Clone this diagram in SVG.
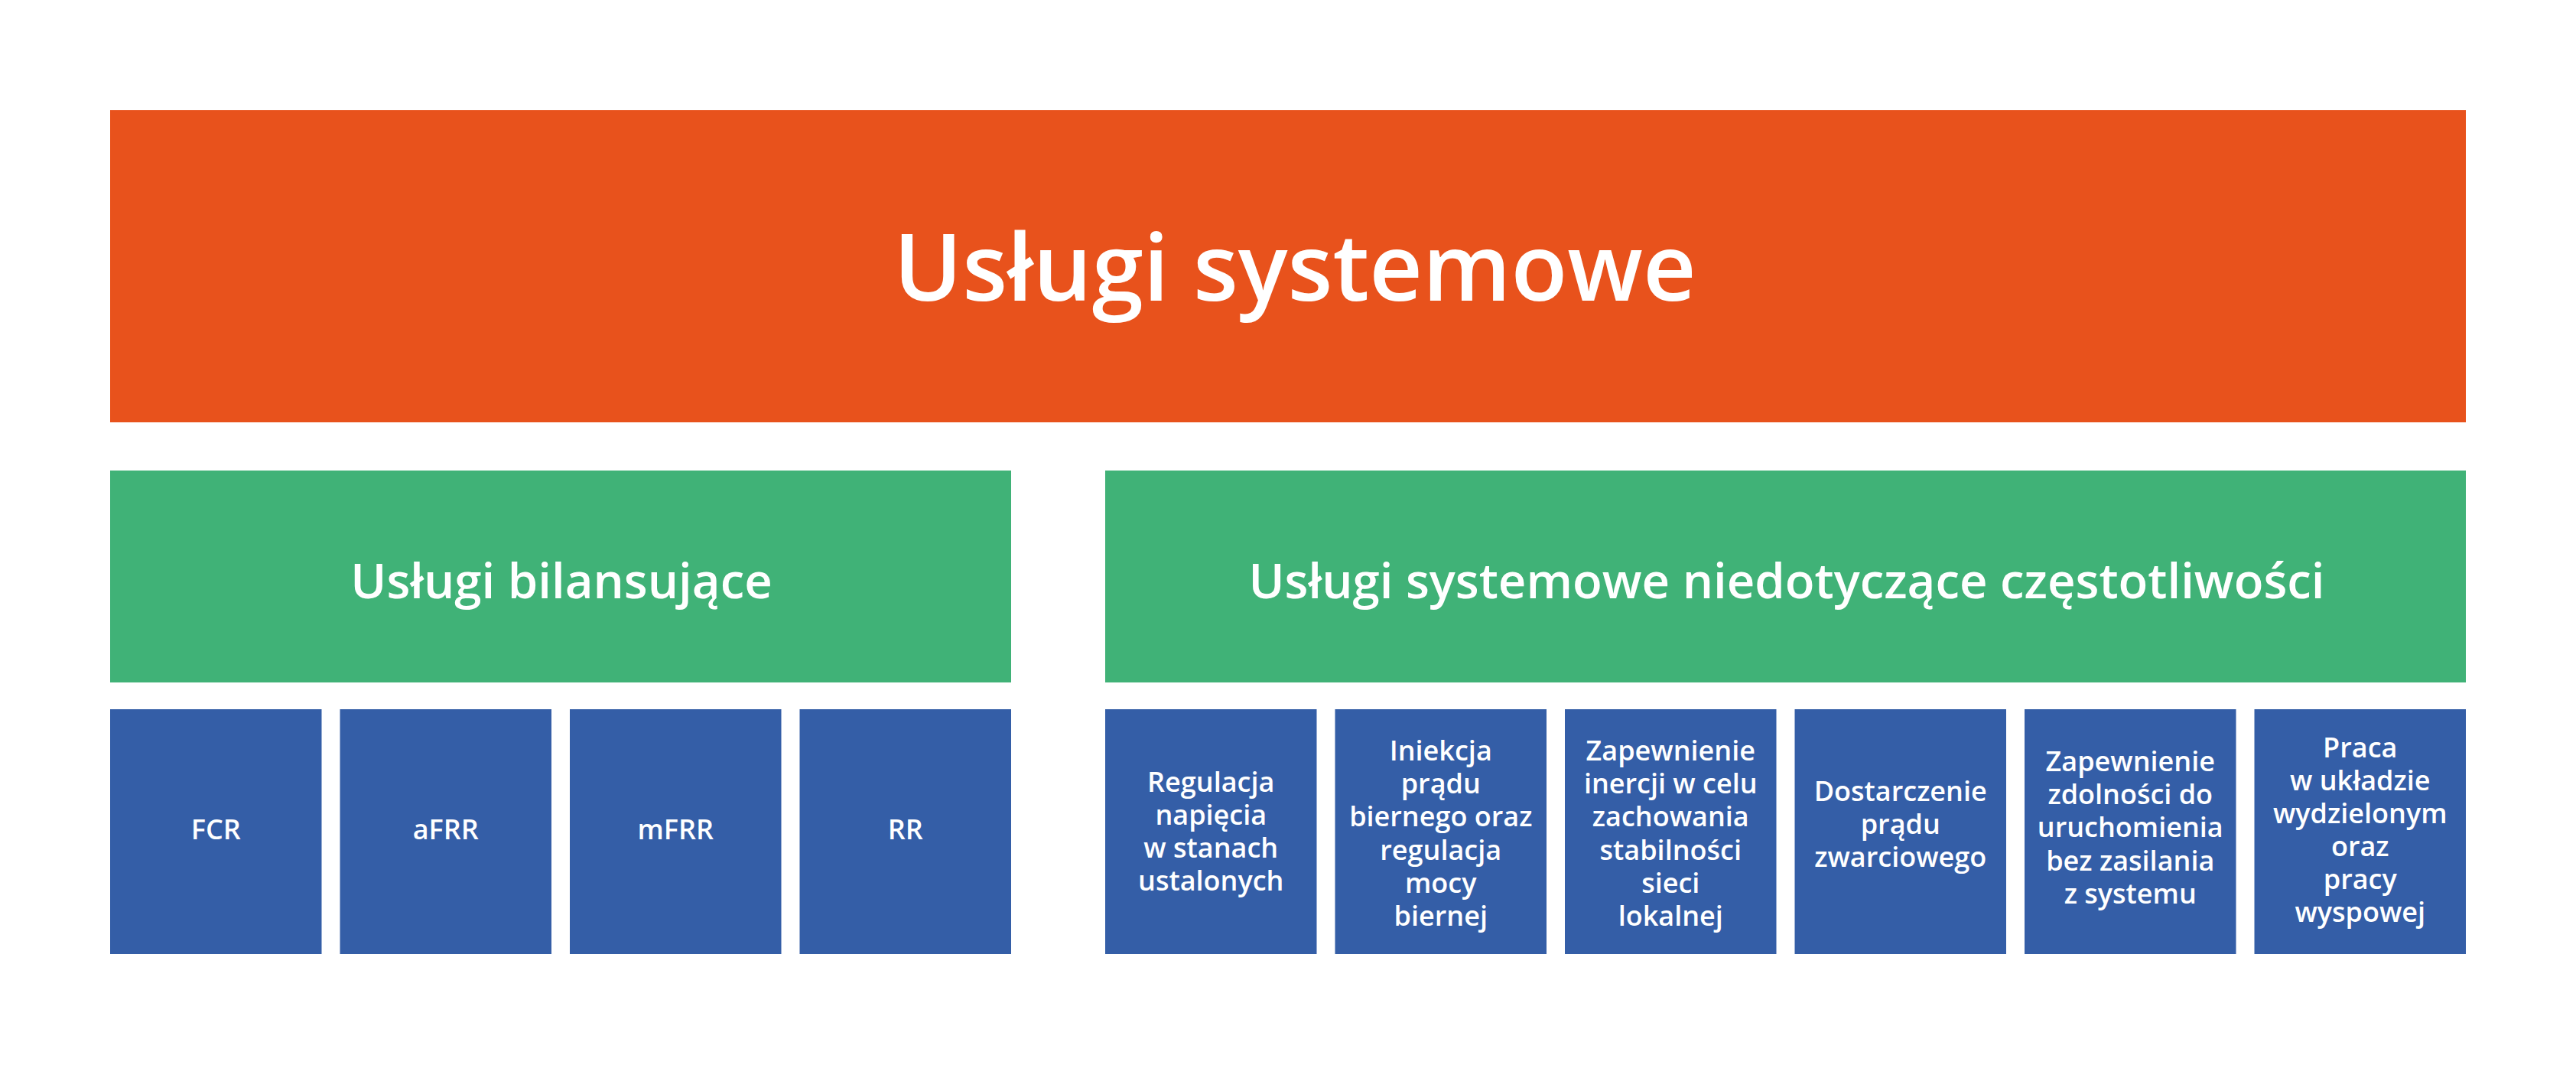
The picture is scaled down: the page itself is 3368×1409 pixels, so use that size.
<svg xmlns="http://www.w3.org/2000/svg" width="3368" height="1409" viewBox="0 0 3368 1409">
<style>
.bg{fill:#ffffff}
.top{fill:#E8521C}
.mid{fill:#40B277}
.leaf{fill:#345EA7}
text{font-family:"Open Sans",Roboto,"Liberation Sans",sans-serif;fill:#ffffff;text-anchor:middle;font-weight:600}
.t1{font-size:121px}
.t2{font-size:63.5px}
.t3{font-size:36px}
</style>
<rect class="bg" x="0" y="0" width="3368" height="1409"/>
<g id="uslugi-systemowe">
<rect class="top" x="144" y="144" width="3080" height="408"/>
<text class="t1" x="1693" y="393">Usługi systemowe</text>
</g>
<g id="uslugi-bilansujace">
<rect class="mid" x="144" y="615" width="1178" height="277"/>
<text class="t2" x="734" y="782">Usługi bilansujące</text>
</g>
<g id="uslugi-niedotyczace">
<rect class="mid" x="1445" y="615" width="1779" height="277"/>
<text class="t2" x="2336" y="782">Usługi systemowe niedotyczące częstotliwości</text>
</g>
<g id="fcr">
<rect class="leaf" x="144" y="927" width="276.5" height="320"/>
<text class="t3" x="282.25" y="1097">FCR</text>
</g>
<g id="afrr">
<rect class="leaf" x="444.5" y="927" width="276.5" height="320"/>
<text class="t3" x="582.75" y="1097">aFRR</text>
</g>
<g id="mfrr">
<rect class="leaf" x="745" y="927" width="276.5" height="320"/>
<text class="t3" x="883.25" y="1097">mFRR</text>
</g>
<g id="rr">
<rect class="leaf" x="1045.5" y="927" width="276.5" height="320"/>
<text class="t3" x="1183.75" y="1097">RR</text>
</g>
<g id="regulacja-napiecia">
<rect class="leaf" x="1445" y="927" width="276.5" height="320"/>
<text class="t3" x="1583.25" y="1035">Regulacja<tspan x="1583.25" dy="43">napięcia</tspan><tspan x="1583.25" dy="43">w stanach</tspan><tspan x="1583.25" dy="43">ustalonych</tspan></text>
</g>
<g id="iniekcja-pradu">
<rect class="leaf" x="1745.5" y="927" width="276.5" height="320"/>
<text class="t3" x="1883.75" y="994">Iniekcja<tspan x="1883.75" dy="43.2">prądu</tspan><tspan x="1883.75" dy="43.2">biernego oraz</tspan><tspan x="1883.75" dy="43.2">regulacja</tspan><tspan x="1883.75" dy="43.2">mocy</tspan><tspan x="1883.75" dy="43.2">biernej</tspan></text>
</g>
<g id="inercja">
<rect class="leaf" x="2046" y="927" width="276.5" height="320"/>
<text class="t3" x="2184.25" y="994">Zapewnienie<tspan x="2184.25" dy="43.2">inercji w celu</tspan><tspan x="2184.25" dy="43.2">zachowania</tspan><tspan x="2184.25" dy="43.2">stabilności</tspan><tspan x="2184.25" dy="43.2">sieci</tspan><tspan x="2184.25" dy="43.2">lokalnej</tspan></text>
</g>
<g id="prad-zwarciowy">
<rect class="leaf" x="2346.5" y="927" width="276.5" height="320"/>
<text class="t3" x="2484.75" y="1047">Dostarczenie<tspan x="2484.75" dy="43">prądu</tspan><tspan x="2484.75" dy="43">zwarciowego</tspan></text>
</g>
<g id="black-start">
<rect class="leaf" x="2647" y="927" width="276.5" height="320"/>
<text class="t3" x="2785.25" y="1008">Zapewnienie<tspan x="2785.25" dy="43.2">zdolności do</tspan><tspan x="2785.25" dy="43.2">uruchomienia</tspan><tspan x="2785.25" dy="43.2">bez zasilania</tspan><tspan x="2785.25" dy="43.2">z systemu</tspan></text>
</g>
<g id="praca-wyspowa">
<rect class="leaf" x="2947.5" y="927" width="276.5" height="320"/>
<text class="t3" x="3085.75" y="990">Praca<tspan x="3085.75" dy="43">w układzie</tspan><tspan x="3085.75" dy="43">wydzielonym</tspan><tspan x="3085.75" dy="43">oraz</tspan><tspan x="3085.75" dy="43">pracy</tspan><tspan x="3085.75" dy="43">wyspowej</tspan></text>
</g>
<g id="connectors"></g>
</svg>
